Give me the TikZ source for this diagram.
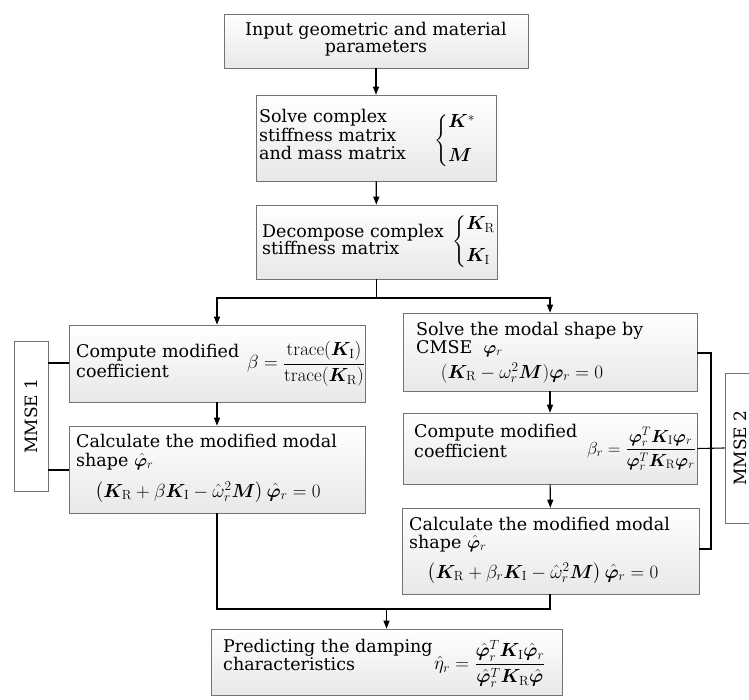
\RequirePackage{fix-cm}
\documentclass[tikz,border=0pt]{standalone}
\usepackage{amsmath,bm}
\usepackage[no-math]{fontspec}
\setmainfont{DejaVu Serif}
\usetikzlibrary{arrows.meta,shadows}
\newcommand{\bK}{\boldsymbol{K}}
\newcommand{\bM}{\boldsymbol{M}}
\newcommand{\bphi}{\boldsymbol{\varphi}}
\newcommand{\hphi}{\hat{\boldsymbol{\varphi}}}
\newcommand{\sR}{\mathrm{R}}
\newcommand{\sI}{\mathrm{I}}
\tikzset{
  flowbox/.style={draw=black!55, line width=0.6pt, top color=white, bottom color=black!9,
    minimum width=#1, inner sep=0pt,
    drop shadow={shadow xshift=1.3pt, shadow yshift=-1.3pt, opacity=0.35, fill=black!60}},
  sidebox/.style={draw=black!55, line width=0.6pt, fill=white, inner sep=0pt},
  txt/.style={anchor=base west, inner sep=0pt, font=\fontsize{17.5}{18}\selectfont},
  ctxt/.style={anchor=base, inner sep=0pt, font=\fontsize{17.5}{18}\selectfont},
  mth/.style={inner sep=0pt, font=\fontsize{19}{20}\selectfont},
  smth/.style={inner sep=0pt, font=\fontsize{17.5}{18}\selectfont},
  link/.style={line width=1.1pt, black},
  arr/.style={link, -{Triangle[length=8pt,width=6pt]}},
}
\begin{document}
\begin{tikzpicture}[x=1pt,y=-1pt]
\useasboundingbox (0,0) rectangle (749,700);
% boxes
\node[flowbox=304pt, minimum height=54pt] (b1) at (376,41) {};
\node[flowbox=240pt, minimum height=86pt] (b2) at (376,138) {};
\node[flowbox=241pt, minimum height=74pt] (b3) at (376.5,242) {};
\node[flowbox=296pt, minimum height=77pt] (l1) at (217,363.5) {};
\node[flowbox=296pt, minimum height=87pt] (l2) at (217,469.5) {};
\node[flowbox=294pt, minimum height=78pt] (r1) at (550,352) {};
\node[flowbox=294pt, minimum height=71pt] (r2) at (550,448.5) {};
\node[flowbox=297pt, minimum height=86pt] (r3) at (550.5,551) {};
\node[flowbox=351pt, minimum height=66pt] (bt) at (386.5,662) {};
\node[sidebox, minimum width=34pt, minimum height=150pt] (m1) at (31,416) {};
\node[sidebox, minimum width=35pt, minimum height=150pt] (m2) at (742.5,448) {};
\node[rotate=90, inner sep=0pt, font=\fontsize{17}{18}\selectfont] (m1t) at (m1.center) {MMSE 1};
\node[rotate=90, inner sep=0pt, font=\fontsize{17}{18}\selectfont] (m2t) at (740,448) {MMSE 2};
% box 1
\node[ctxt] (b1a) at (376,36) {Input geometric and material};
\node[ctxt] (b1b) at (376,53) {parameters};
% box 2
\node[txt] (b2a) at (259,123) {Solve complex};
\node[txt] (b2b) at (259,142) {stiffness matrix};
\node[txt] (b2c) at (259,160) {and mass matrix};
\node[mth, anchor=west] (b2m) at (434,141) {$\left\{\begin{array}{@{}l@{}}\bK^{*}\\[14pt]\bM\end{array}\right.$};
% box 3
\node[txt] (b3a) at (262,238) {Decompose complex};
\node[txt] (b3b) at (262,255) {stiffness matrix};
\node[mth, anchor=west] (b3m) at (452,242) {$\left\{\begin{array}{@{}l@{}}\bK_{\sR}\\[12pt]\bK_{\sI}\end{array}\right.$};
% left 1
\node[txt] (l1a) at (76,357) {Compute modified};
\node[txt] (l1b) at (76,377) {coefficient};
\node[mth, anchor=west] (l1m) at (247,364) {$\beta=\dfrac{\mathrm{trace}(\bK_{\sI})}{\mathrm{trace}(\bK_{\sR})}$};
% left 2
\node[txt] (l2a) at (76,447) {Calculate the modified modal};
\node[txt] (l2b) at (76,466) {shape $\hphi_r$};
\node[mth, anchor=base] (l2m) at (208,497) {$\left(\bK_{\sR}+\beta\bK_{\sI}-\hat{\omega}_r^2\bM\right)\hphi_r=0$};
% right 1
\node[txt] (r1a) at (416,335) {Solve the modal shape by};
\node[txt] (r1b) at (416,353) {CMSE\ \ $\bphi_r$};
\node[mth, anchor=base] (r1m) at (522,378) {$(\bK_{\sR}-\omega_r^2\bM)\bphi_r=0$};
% right 2
\node[txt] (r2a) at (414,437) {Compute modified};
\node[txt] (r2b) at (414,457) {coefficient};
\node[smth, anchor=west] (r2m) at (587,449) {$\beta_r=\dfrac{\bphi_r^T\bK_{\sI}\bphi_r}{\bphi_r^T\bK_{\sR}\bphi_r}$};
% right 3
\node[txt] (r3a) at (409,530) {Calculate the modified modal};
\node[txt] (r3b) at (409,548) {shape $\hphi_r$};
\node[mth, anchor=base] (r3m) at (543,578) {$\left(\bK_{\sR}+\beta_r\bK_{\sI}-\hat{\omega}_r^2\bM\right)\hphi_r=0$};
% bottom
\node[txt] (bta) at (223,652) {Predicting the damping};
\node[txt] (btb) at (223,670) {characteristics};
\node[mth, anchor=west] (btm) at (434,664) {$\hat{\eta}_r=\dfrac{\hphi_r^T\bK_{\sI}\hphi_r}{\hphi_r^T\bK_{\sR}\hphi}$};
% connectors
\coordinate (split) at (376.5,298);
\coordinate (join) at (386.5,609);
\draw[arr] (b1) -- (b2);
\draw[arr] (b2) -- (b3);
\draw[link] (b3.south) -- (split);
\draw[arr] (split) -| (l1.north);
\draw[arr] (split) -| (r1.north);
\draw[arr] (l1) -- (l2);
\draw[arr] (r1) -- (r2);
\draw[arr] (r2) -- (r3);
\draw[link] (l2.south) |- (join);
\draw[link] ([xshift=-0.5pt]r3.south) |- (join);
\draw[arr] (join) -- (bt.north);
% MMSE brackets
\draw[link] (l1.west |- 0,363) -- (m1.east |- 0,363);
\draw[link] (l2.west |- 0,470) -- (m1.east |- 0,470);
\coordinate (rb) at (711,448);
\draw[link] (r1.east |- 0,353) -| (rb) |- (r3.east |- 0,549);
\draw[link] (r2.east) -- (m2.west);
\end{tikzpicture}
\end{document}
